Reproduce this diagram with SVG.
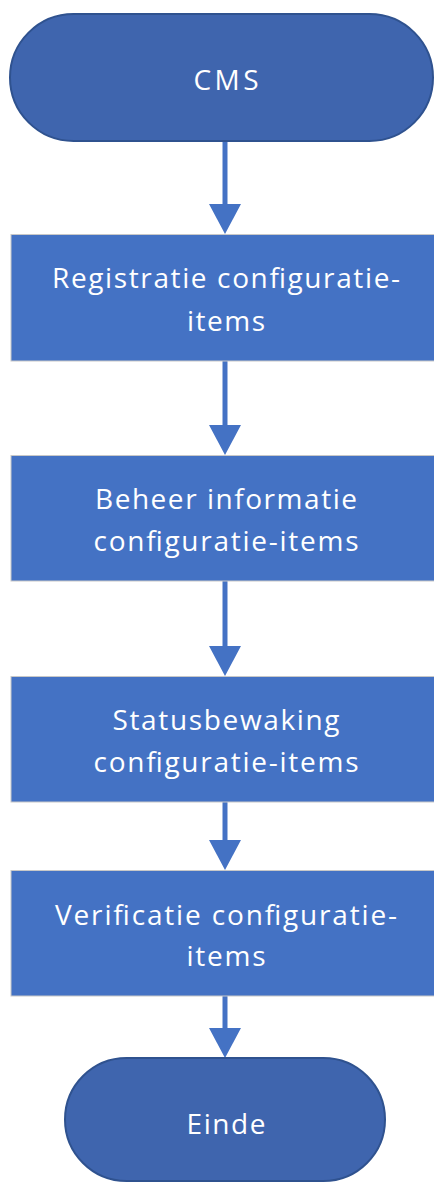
<svg xmlns="http://www.w3.org/2000/svg" width="434" height="1182" viewBox="0 0 434 1182">
<style>
.term{fill:#3f65ae;stroke:#2f528f;stroke-width:2}
.box{fill:#4472c4;stroke:#c8c8c8;stroke-width:1}
.lbl{fill:#ffffff;font-family:"Open Sans","Liberation Sans",sans-serif;font-size:28px;text-anchor:middle}
.conn{stroke:#4472c4;stroke-width:5;fill:none}
.head{fill:#4472c4}
</style>
<rect width="434" height="1182" fill="#ffffff"/>
<g id="connectors">
<line class="conn" x1="225" y1="141" x2="225" y2="206"/>
<polygon class="head" points="209,204 241,204 225,234"/>
<line class="conn" x1="225" y1="361" x2="225" y2="427"/>
<polygon class="head" points="209,425 241,425 225,455"/>
<line class="conn" x1="225" y1="581" x2="225" y2="648"/>
<polygon class="head" points="209,646 241,646 225,676"/>
<line class="conn" x1="225" y1="802" x2="225" y2="842"/>
<polygon class="head" points="209,840 241,840 225,870"/>
<line class="conn" x1="225" y1="996" x2="225" y2="1030"/>
<polygon class="head" points="209,1028 241,1028 225,1058"/>
</g>
<g id="cms">
<rect class="term" x="10" y="14" width="423" height="127" rx="63.5"/>
<text class="lbl" x="226" y="90" textLength="65" lengthAdjust="spacing">CMS</text>
</g>
<g id="registratie">
<rect class="box" x="11" y="234.5" width="430" height="126.5"/>
<text class="lbl" x="226" y="288" textLength="348" lengthAdjust="spacing">Registratie configuratie-</text>
<text class="lbl" x="226" y="331" textLength="78" lengthAdjust="spacing">items</text>
</g>
<g id="beheer">
<rect class="box" x="11" y="455.5" width="430" height="125.5"/>
<text class="lbl" x="226" y="509" textLength="262" lengthAdjust="spacing">Beheer informatie</text>
<text class="lbl" x="226" y="551" textLength="265" lengthAdjust="spacing">configuratie-items</text>
</g>
<g id="status">
<rect class="box" x="11" y="676.5" width="430" height="125.5"/>
<text class="lbl" x="226" y="730" textLength="227" lengthAdjust="spacing">Statusbewaking</text>
<text class="lbl" x="226" y="772" textLength="265" lengthAdjust="spacing">configuratie-items</text>
</g>
<g id="verificatie">
<rect class="box" x="11" y="870.5" width="430" height="125.5"/>
<text class="lbl" x="226" y="925" textLength="342" lengthAdjust="spacing">Verificatie configuratie-</text>
<text class="lbl" x="226" y="966" textLength="79" lengthAdjust="spacing">items</text>
</g>
<g id="einde">
<rect class="term" x="65" y="1058" width="320" height="123" rx="61.5"/>
<text class="lbl" x="226" y="1134" textLength="79" lengthAdjust="spacing">Einde</text>
</g>
</svg>
